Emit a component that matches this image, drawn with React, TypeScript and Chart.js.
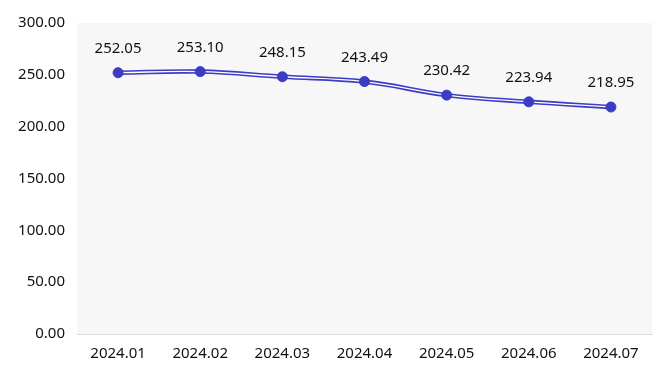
import React, { useEffect, useRef } from "react";
import { Chart, registerables } from "chart.js";

Chart.register(...registerables);

const categories = ["2024.01", "2024.02", "2024.03", "2024.04", "2024.05", "2024.06", "2024.07"];
const values = [252.05, 253.1, 248.15, 243.49, 230.42, 223.94, 218.95];
const yTicks = [0, 50, 100, 150, 200, 250, 300];

const FONT = "'Noto Sans', sans-serif";
const BLUE = "#3b3bc4";

const bgPlugin = {
  id: "plotBg",
  beforeDraw(chart: any) {
    const { ctx, chartArea } = chart;
    ctx.save();
    ctx.fillStyle = "#f7f7f7";
    ctx.fillRect(chartArea.left, chartArea.top, chartArea.right - chartArea.left, chartArea.bottom - chartArea.top);
    ctx.restore();
  },
};

const labelPlugin = {
  id: "valueLabels",
  afterDatasetsDraw(chart: any) {
    const { ctx } = chart;
    const meta = chart.getDatasetMeta(2);
    ctx.save();
    ctx.fillStyle = "#111";
    ctx.font = `15px ${FONT}`;
    ctx.textAlign = "center";
    ctx.textBaseline = "middle";
    meta.data.forEach((pt: any, i: number) => {
      ctx.fillText(values[i].toFixed(2), pt.x, pt.y - 24);
    });
    ctx.restore();
  },
};

export default function App() {
  const ref = useRef<HTMLCanvasElement>(null);
  useEffect(() => {
    document.body.style.margin = "0";
    const chart = new Chart(ref.current!, {
      type: "line",
      data: {
        labels: categories,
        datasets: [
          { data: values, borderColor: BLUE, borderWidth: 4.5, tension: 0.4, pointRadius: 0, order: 3 },
          { data: values, borderColor: "#ffffff", borderWidth: 1.3, tension: 0.4, pointRadius: 0, order: 2 },
          {
            data: values,
            showLine: false,
            pointRadius: 5,
            pointBackgroundColor: BLUE,
            pointBorderColor: BLUE,
            pointBorderWidth: 1,
            order: 1,
          },
        ],
      },
      options: {
        responsive: false,
        animation: false,
        layout: { padding: { top: 23, right: 15, bottom: 1, left: 0 } },
        plugins: { legend: { display: false }, tooltip: { enabled: false } },
        scales: {
          x: {
            offset: true,
            grid: { display: false, drawTicks: false },
            border: { color: "#dcdcdc", width: 1 },
            ticks: { color: "#111", font: { family: FONT, size: 15 }, padding: 11 },
          },
          y: {
            min: 0,
            max: 300,
            afterFit(axis: any) {
              axis.width = 77;
            },
            afterBuildTicks(axis: any) {
              axis.ticks = yTicks.map((v) => ({ value: v }));
            },
            grid: { display: false, drawTicks: false },
            border: { display: false },
            ticks: {
              color: "#111",
              font: { family: FONT, size: 15 },
              padding: 12,
              callback: (v: any) => Number(v).toFixed(2),
            },
          },
        },
      },
      plugins: [bgPlugin, labelPlugin],
    });
    return () => chart.destroy();
  }, []);
  return (
    <div style={{ width: 667, height: 375, background: "#fff" }}>
      <canvas ref={ref} width={667} height={375} />
    </div>
  );
}
